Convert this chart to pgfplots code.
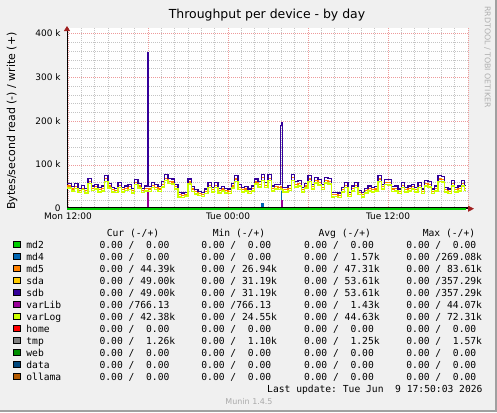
\documentclass[border=0pt]{standalone}
\usepackage{fontspec}
\setmainfont{DejaVu Sans}
\newfontfamily\mono{DejaVu Sans Mono}
\usepackage{pgfplots}
\pgfplotsset{compat=1.18}
\usepackage{pgfplotstable}
\usetikzlibrary{arrows.meta}

\definecolor{bg}{HTML}{F0F0F0}
\definecolor{frameB}{HTML}{A0A0A0}
\definecolor{arrowred}{HTML}{A02020}
\definecolor{mgrid}{HTML}{EE9A9A}
\definecolor{sgrid}{HTML}{C4C4C4}
\definecolor{md2}{HTML}{00CC00}
\definecolor{md4}{HTML}{0066B3}
\definecolor{md5}{HTML}{FF8000}
\definecolor{sda}{HTML}{FFCC00}
\definecolor{sdb}{HTML}{330099}
\definecolor{varLib}{HTML}{990099}
\definecolor{varLog}{HTML}{CCFF00}
\definecolor{home}{HTML}{FF0000}
\definecolor{tmp}{HTML}{808080}
\definecolor{web}{HTML}{008F00}
\definecolor{data}{HTML}{00487D}
\definecolor{ollama}{HTML}{B35A00}

% hours from Mon 12:00, values in kB/s (write, +)
\pgfplotstableread{
h sdb md5 vlog
-0.075 58 52 47
0.25 50 45 40
0.5 57 50 46
0.75 47 42 37
1.0 53 47 44
1.25 46 41 36
1.5 70 63 58
1.75 52 46 42
2.0 56 50 45
2.25 48 43 38
2.5 52 46 41
2.75 76 69 62
3.0 58 52 47
3.25 49 44 38
3.5 47 42 37
3.75 60 54 49
4.0 48 43 38
4.25 52 46 42
4.5 56 50 44
4.75 47 42 36
5.0 67 60 55
5.25 58 52 47
5.5 47 42 37
5.75 52 47 41
5.94 357.29 47 42
6.02 50 45 39
6.25 60 54 49
6.5 55 49 44
6.75 50 45 39
7.0 62 56 50
7.25 78 70 64
7.5 70 63 58
7.75 68 61 56
8.0 56 50 45
8.25 37 32 27
8.5 36 31 26
8.75 38 33 29
9.0 68 61 56
9.25 50 45 39
9.5 44 39 34
9.75 40 35 30
10.0 37 32 28
10.25 45 40 35
10.5 60 54 48
10.75 48 43 38
11.0 60 54 49
11.25 46 41 36
11.5 50 45 40
11.75 46 41 36
12.0 45 40 35
12.25 58 52 47
12.5 75 68 62
12.75 55 49 44
13.0 48 43 38
13.25 50 45 40
13.5 45 40 35
13.75 52 47 41
14.0 68 61 56
14.25 62 56 50
14.5 79 71 65
14.75 60 54 48
15.0 78 70 64
15.25 52 47 41
15.5 56 50 45
15.75 55 49 44
15.94 190 50 45
16.03 197 48 44
16.12 49 44 38
16.25 48 43 38
16.5 53 47 42
16.75 79 71 65
17.0 62 56 50
17.25 64 57 52
17.5 49 44 38
17.75 58 52 47
18.0 75 68 62
18.25 56 50 45
18.5 72 65 59
18.75 66 59 54
19.0 55 49 44
19.25 72 65 59
19.5 70 63 57
19.75 37 32 27
20.0 38 33 28
20.25 36 31 26
20.5 48 43 38
20.75 60 54 48
21.0 38 33 28
21.25 52 47 41
21.5 60 54 48
21.75 42 37 32
22.0 37 32 27
22.25 46 41 36
22.5 52 47 41
22.75 48 43 38
23.0 50 45 40
23.25 75 68 62
23.5 56 50 45
23.75 67 60 55
24.0 66 59 54
24.25 50 45 39
24.5 52 47 41
24.75 45 40 35
25.0 60 54 48
25.25 49 44 38
25.5 52 47 41
25.75 56 50 45
26.0 48 43 38
26.25 60 54 48
26.5 45 40 35
26.75 64 57 52
27.0 62 56 50
27.25 45 40 35
27.5 52 47 41
27.75 75 68 62
28.0 74 67 61
28.25 49 44 38
28.5 45 40 35
28.75 64 57 52
29.0 49 44 38
29.25 52 47 41
29.5 64 57 52
29.75 53 47 42
29.83 53 47 42
}\disk

\newcommand\legrow[7]{%
  \node[draw=black,fill=#2,minimum size=6.2bp,inner sep=0pt,line width=0.6bp] at (16.7,{-(#1-3.7)}) {};
  \node[anchor=base west,inner sep=0pt] at (26.2,-#1) {#3};
  \node[anchor=base west,inner sep=0pt] at (99.4,-#1) {#4};
  \node[anchor=base west,inner sep=0pt] at (201.2,-#1) {#5};
  \node[anchor=base west,inner sep=0pt] at (303.8,-#1) {#6};
  \node[anchor=base west,inner sep=0pt] at (406.2,-#1) {#7};
}

\begin{document}
\begin{tikzpicture}[x=1bp,y=1bp]
\fill[bg] (0,0) rectangle (497,-412);
\fill[frameB] (495,0) rectangle (497,-412);
\fill[frameB] (0,-410) rectangle (497,-412);

\begin{axis}[
  at={(67bp,-208.7bp)}, anchor=south west,
  scale only axis, width=401bp, height=180.7bp,
  xmin=-0.075, xmax=30, ymin=0, ymax=413,
  clip=false,
  axis background/.style={fill=white},
  axis lines*=left,
  axis line style={black, line width=0.8bp},
  x axis line style={-{Triangle[length=6bp,width=6bp,color=arrowred]}, shorten >=-6bp},
  y axis line style={-{Triangle[length=5bp,width=6bp,color=arrowred]}, shorten >=-2bp},
  xtick={0,6,...,30},
  xticklabels={Mon 12:00,,Tue 00:00,,Tue 12:00,},
  ytick={0,100,200,300,400},
  yticklabels={0,100 k,200 k,300 k,400 k},
  minor x tick num=5, minor y tick num=4,
  major tick length=0pt, minor tick length=0pt,
  grid=both,
  major grid style={mgrid, line width=0.8bp, dash pattern=on 1bp off 1bp},
  minor grid style={sgrid, line width=0.8bp, dash pattern=on 1bp off 1bp},
  xticklabel style={font=\fontsize{9}{10}\selectfont, anchor=base, inner sep=0pt, yshift=-10.8bp},
  yticklabel style={font=\fontsize{9}{10}\selectfont, anchor=base east, inner sep=0pt, xshift=-6.3bp, yshift=-2.8bp},
]
\addplot[const plot, md4, line width=1.1bp] coordinates {(-0.075,0) (14.0,3) (14.1,0) (14.55,12) (14.65,0) (15.99,40) (16.03,0) (29.83,0)};
\addplot[const plot, home, line width=0.8bp] coordinates {(-0.075,0) (29.83,0)};
\addplot[const plot, web, line width=0.8bp] coordinates {(-0.075,0) (29.83,0)};
\addplot[const plot, data, line width=0.8bp] coordinates {(-0.075,0) (29.83,0)};
\addplot[const plot, ollama, line width=0.8bp] coordinates {(-0.075,0) (29.83,0)};
\addplot[const plot, tmp, line width=0.8bp] coordinates {(-0.075,1.26) (6.0,1.10) (12.0,1.25) (18.0,1.57) (24.0,1.26) (29.83,1.26)};
\addplot[const plot, md5, line width=1.1bp] table[x=h,y=md5]{\disk};
\addplot[const plot, sda, line width=1.1bp] table[x=h,y=sdb]{\disk};
\addplot[const plot, sdb, line width=1.1bp] table[x=h,y=sdb]{\disk};
\addplot[const plot, varLib, line width=1.1bp] coordinates {(-0.075,0.77) (5.94,40) (6.02,0.77) (16.0,18) (16.05,0.77) (29.83,0.77)};
\addplot[const plot, varLog, line width=1.5bp] table[x=h,y=vlog]{\disk};
\addplot[const plot, md2, line width=1.6bp] coordinates {(-0.075,0) (29.83,0)};
\draw[black, line width=0.9bp] ([yshift=1.35bp]rel axis cs:0,0) -- ([yshift=1.35bp]rel axis cs:1,0);
\end{axis}

% title and labels
\node[anchor=base, inner sep=0pt, font=\fontsize{12.5}{14}\selectfont] at (267,-18.3) {Throughput per device - by day};
\node[rotate=90, inner sep=0pt, font=\fontsize{11}{12}\selectfont] at (12,-121) {Bytes/second read (-) / write (+)};
\node[rotate=-90, inner sep=0pt, text={rgb,255:red,176;green,176;blue,176}, font=\fontsize{7.9}{9}\selectfont] at (487.5,-57) {RRDTOOL / TOBI OETIKER};

% legend table
\begin{scope}[font=\mono\fontsize{9.7}{11}\selectfont]
\node[anchor=base west,inner sep=0pt] at (106.6,-236.3) {Cur~(-/+)};
\node[anchor=base west,inner sep=0pt] at (212.6,-236.3) {Min~(-/+)};
\node[anchor=base west,inner sep=0pt] at (318.4,-236.3) {Avg~(-/+)};
\node[anchor=base west,inner sep=0pt] at (422.6,-236.3) {Max~(-/+)};
\legrow{248}{md2}{md2}{0.00~/~~0.00}{0.00~/~~0.00}{0.00~/~~0.00}{0.00~/~~0.00}
\legrow{260}{md4}{md4}{0.00~/~~0.00}{0.00~/~~0.00}{0.00~/~~1.57k}{0.00~/269.08k}
\legrow{272}{md5}{md5}{0.00~/~44.39k}{0.00~/~26.94k}{0.00~/~47.31k}{0.00~/~83.61k}
\legrow{284}{sda}{sda}{0.00~/~49.00k}{0.00~/~31.19k}{0.00~/~53.61k}{0.00~/357.29k}
\legrow{296}{sdb}{sdb}{0.00~/~49.00k}{0.00~/~31.19k}{0.00~/~53.61k}{0.00~/357.29k}
\legrow{308}{varLib}{varLib}{0.00~/766.13}{0.00~/766.13}{0.00~/~~1.43k}{0.00~/~44.07k}
\legrow{320}{varLog}{varLog}{0.00~/~42.38k}{0.00~/~24.55k}{0.00~/~44.63k}{0.00~/~72.31k}
\legrow{332}{home}{home}{0.00~/~~0.00}{0.00~/~~0.00}{0.00~/~~0.00}{0.00~/~~0.00}
\legrow{344}{tmp}{tmp}{0.00~/~~1.26k}{0.00~/~~1.10k}{0.00~/~~1.25k}{0.00~/~~1.57k}
\legrow{356}{web}{web}{0.00~/~~0.00}{0.00~/~~0.00}{0.00~/~~0.00}{0.00~/~~0.00}
\legrow{368}{data}{data}{0.00~/~~0.00}{0.00~/~~0.00}{0.00~/~~0.00}{0.00~/~~0.00}
\legrow{380}{ollama}{ollama}{0.00~/~~0.00}{0.00~/~~0.00}{0.00~/~~0.00}{0.00~/~~0.00}
\node[anchor=base east,inner sep=0pt] at (482.7,-392.3) {Last~update:~Tue~Jun~~9~17:50:03~2026};
\end{scope}
\node[anchor=base, inner sep=0pt, text={rgb,255:red,170;green,170;blue,170}, font=\fontsize{8}{9}\selectfont] at (249,-404) {Munin 1.4.5};

\pgfresetboundingbox
\useasboundingbox (0,0) rectangle (497,-412);
\end{tikzpicture}
\end{document}
